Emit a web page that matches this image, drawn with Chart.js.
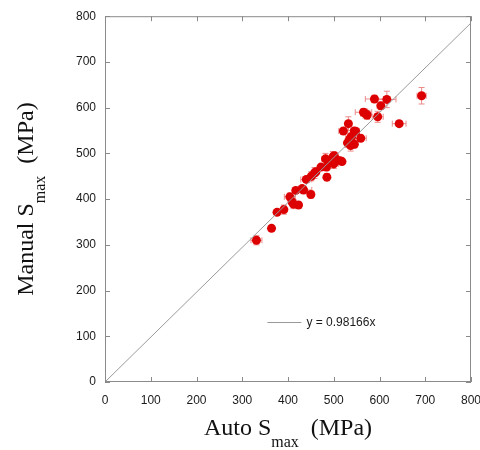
<!DOCTYPE html>
<html>
<head>
<meta charset="utf-8">
<script src="https://cdn.jsdelivr.net/npm/chart.js@4.4.1/dist/chart.umd.min.js"></script>
<style>
  body { margin: 0; background: #fff; }
</style>
</head>
<body>
<canvas id="sChart" width="480" height="450"></canvas>
<script>
// dane
const autoSmax   = [331, 364, 376, 391, 404, 409, 412, 417, 423, 431, 434, 440, 450, 451, 458, 461, 472, 482, 484, 485, 492, 498, 501, 500, 506, 514, 518, 521, 532, 530, 536, 537, 539, 545, 548, 545, 559, 565, 569, 573, 589, 596, 603, 616, 643, 692, 534];
const manualSmax = [310, 336, 371, 377, 405, 394, 389, 419, 387, 423, 420, 443, 410, 450, 457, 460, 470, 488, 470, 448, 480, 492, 495, 477, 486, 484, 482, 549, 565, 523, 533, 517, 537, 549, 548, 520, 533, 590, 587, 584, 619, 580, 604, 618, 565, 626, 528];
const autoErr    = [12, 0, 0, 5, 12, 8, 4, 5, 5, 8, 18, 12, 4, 4, 5, 8, 5, 8, 8, 4, 8, 5, 8, 10, 8, 8, 5, 10, 5, 5, 10, 6, 8, 8, 8, 6, 12, 18, 10, 6, 20, 12, 8, 20, 15, 10, 6];
const manualErr  = [10, 0, 0, 10, 8, 8, 10, 5, 5, 5, 8, 5, 8, 10, 12, 8, 5, 12, 8, 8, 8, 12, 8, 10, 8, 5, 5, 5, 15, 10, 6, 12, 8, 8, 8, 8, 6, 8, 10, 10, 8, 12, 8, 18, 5, 18, 8];
const slope = 0.98166;
const fitX = [0, 800];
const axisTicks = [0, 100, 200, 300, 400, 500, 600, 700, 800];

const pointData = autoSmax.map((x, i) => ({ x: x, y: manualSmax[i] }));
const lineData = fitX.map(x => ({ x: x, y: slope * x }));

// slupki bledow
const errorBars = {
    id: 'errorBars',
    beforeDatasetsDraw(chart) {
        const ctx = chart.ctx;
        const xs = chart.scales.x, ys = chart.scales.y;
        ctx.save();
        ctx.strokeStyle = '#ec8a8a';
        ctx.lineWidth = 1;
        autoSmax.forEach((v, i) => {
            const px = xs.getPixelForValue(v), py = ys.getPixelForValue(manualSmax[i]);
            const ex = autoErr[i], ey = manualErr[i];
            ctx.beginPath();
            if (ex > 0) {
                const x1 = xs.getPixelForValue(v - ex), x2 = xs.getPixelForValue(v + ex);
                ctx.moveTo(x1, py); ctx.lineTo(x2, py);
                ctx.moveTo(x1, py - 3); ctx.lineTo(x1, py + 3);
                ctx.moveTo(x2, py - 3); ctx.lineTo(x2, py + 3);
            }
            if (ey > 0) {
                const y1 = ys.getPixelForValue(manualSmax[i] - ey), y2 = ys.getPixelForValue(manualSmax[i] + ey);
                ctx.moveTo(px, y1); ctx.lineTo(px, y2);
                ctx.moveTo(px - 3, y1); ctx.lineTo(px + 3, y1);
                ctx.moveTo(px - 3, y2); ctx.lineTo(px + 3, y2);
            }
            ctx.stroke();
        });
        ctx.restore();
    }
};

// ramka, znaczniki do srodka, tytuly osi i legenda
const frame = {
    id: 'frame',
    afterDraw(chart) {
        const ctx = chart.ctx;
        const a = chart.chartArea;
        const xs = chart.scales.x, ys = chart.scales.y;
        ctx.save();
        ctx.strokeStyle = '#8a8a8a';
        ctx.lineWidth = 1;
        ctx.strokeRect(a.left + 0.5, a.top + 0.5, a.right - a.left - 1, a.bottom - a.top - 1);
        ctx.beginPath();
        axisTicks.forEach(t => {
            const px = Math.round(xs.getPixelForValue(t)) + 0.5;
            ctx.moveTo(px, a.bottom); ctx.lineTo(px, a.bottom - 5);
            ctx.moveTo(px, a.top); ctx.lineTo(px, a.top + 5);
            const py = Math.round(ys.getPixelForValue(t)) + 0.5;
            ctx.moveTo(a.left, py); ctx.lineTo(a.left + 5, py);
            ctx.moveTo(a.right, py); ctx.lineTo(a.right - 5, py);
        });
        ctx.stroke();

        // legenda
        const lx = xs.getPixelForValue(355), ly = Math.round(ys.getPixelForValue(131)) + 0.5;
        ctx.strokeStyle = '#9a9a9a';
        ctx.beginPath();
        ctx.moveTo(lx, ly); ctx.lineTo(lx + 34, ly);
        ctx.stroke();
        ctx.fillStyle = '#1a1a1a';
        ctx.font = '12px "Liberation Sans", Arial, sans-serif';
        ctx.textBaseline = 'middle';
        ctx.textAlign = 'left';
        ctx.fillText('y = 0.98166x', lx + 39, ly);

        // tytuly osi
        const big = '24px "Liberation Serif", "Times New Roman", serif';
        const small = '16px "Liberation Serif", "Times New Roman", serif';
        function title(parts) {
            let w = 0;
            parts.forEach(p => { ctx.font = p[1] ? small : big; w += ctx.measureText(p[0]).width; });
            let x = -w / 2;
            parts.forEach(p => {
                ctx.font = p[1] ? small : big;
                ctx.fillText(p[0], x, p[1] ? 12 : 0);
                x += ctx.measureText(p[0]).width;
            });
        }
        ctx.fillStyle = '#111';
        ctx.textBaseline = 'alphabetic';
        ctx.textAlign = 'left';
        ctx.save();
        ctx.translate((a.left + a.right) / 2, 435);
        title([['Auto S', false], ['max', true], ['  (MPa)', false]]);
        ctx.restore();
        ctx.save();
        ctx.translate(33, (a.top + a.bottom) / 2);
        ctx.rotate(-Math.PI / 2);
        title([['Manual S', false], ['max', true], ['  (MPa)', false]]);
        ctx.restore();
        ctx.restore();
    }
};

const tickFont = { family: '"Liberation Sans", Arial, sans-serif', size: 12 };

new Chart(document.getElementById('sChart').getContext('2d'), {
    type: 'scatter',
    data: {
        datasets: [
            {
                type: 'line',
                data: lineData,
                borderColor: '#9a9a9a',
                borderWidth: 1,
                pointRadius: 0,
                fill: false
            },
            {
                data: pointData,
                backgroundColor: '#dd0000',
                borderColor: '#dd0000',
                pointRadius: 4.5,
                borderWidth: 0
            }
        ]
    },
    options: {
        responsive: false,
        animation: false,
        layout: { padding: { top: 16, right: 0, left: 0, bottom: 0 } },
        plugins: { legend: { display: false }, tooltip: { enabled: false } },
        scales: {
            x: {
                type: 'linear', min: 0, max: 800,
                afterBuildTicks: s => { s.ticks = axisTicks.map(v => ({ value: v })); },
                afterFit: s => { s.height = 68; s.paddingRight = 9; },
                grid: { display: false, drawTicks: false },
                border: { display: false },
                ticks: { font: tickFont, color: '#1a1a1a', padding: 11, maxRotation: 0 }
            },
            y: {
                type: 'linear', min: 0, max: 800,
                afterBuildTicks: s => { s.ticks = axisTicks.map(v => ({ value: v })); },
                afterFit: s => { s.width = 105; },
                grid: { display: false, drawTicks: false },
                border: { display: false },
                ticks: { font: tickFont, color: '#1a1a1a', padding: 9 }
            }
        }
    },
    plugins: [errorBars, frame]
});
</script>
</body>
</html>
